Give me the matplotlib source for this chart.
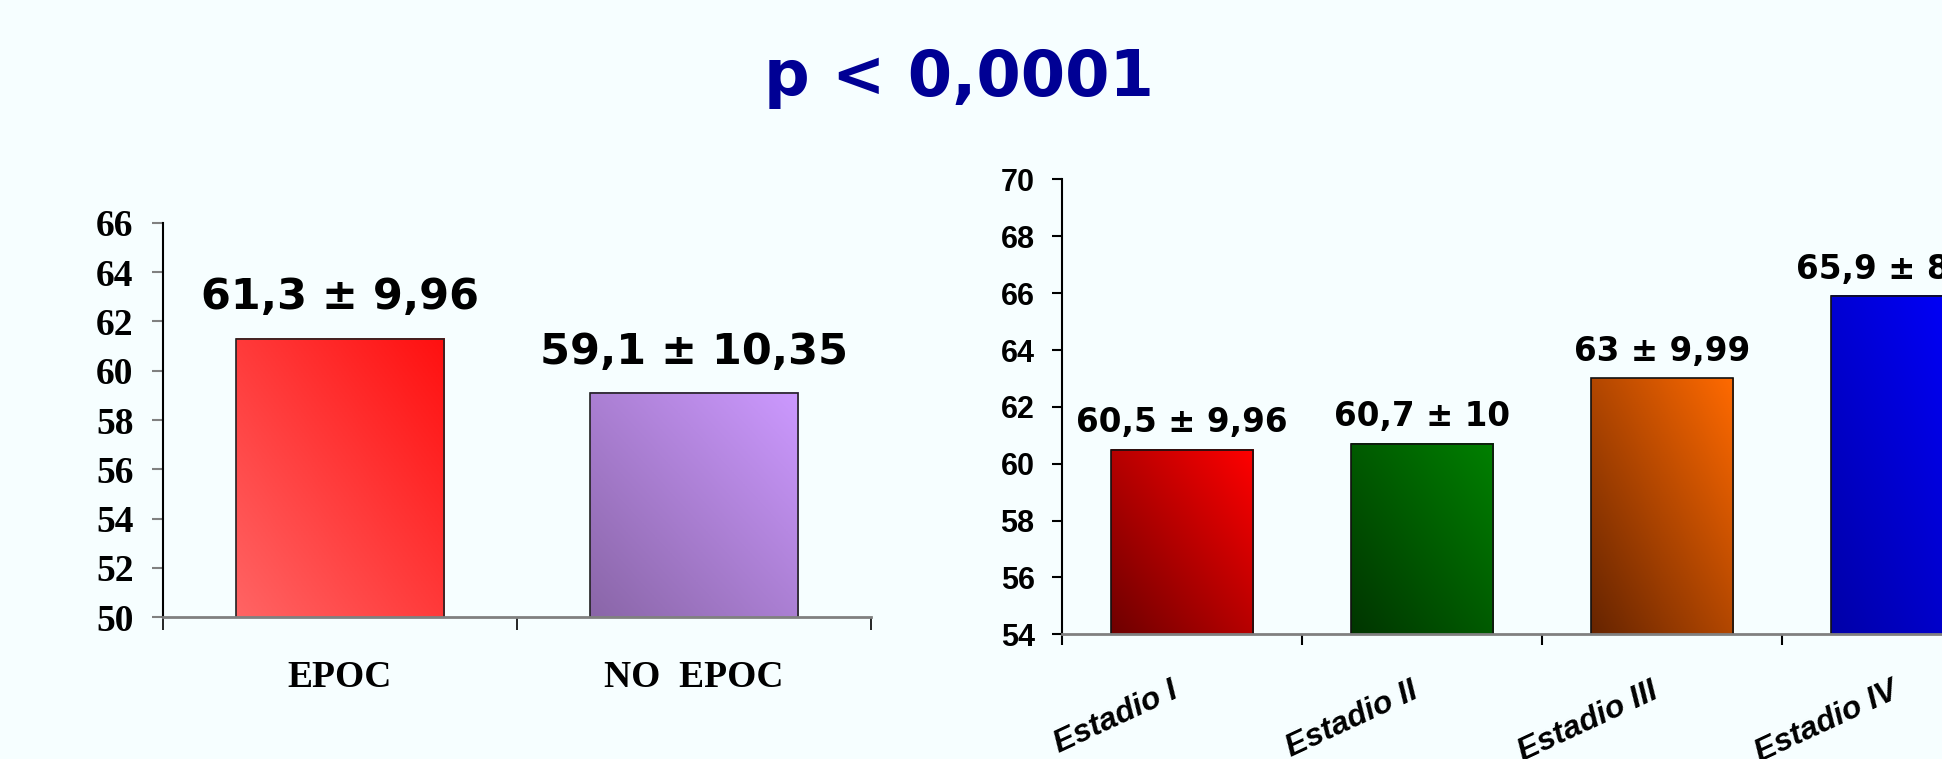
import numpy as np
import matplotlib
matplotlib.use('Agg')
from matplotlib import pyplot as plt
from matplotlib.colors import LinearSegmentedColormap
from matplotlib.transforms import ScaledTranslation

# datos del grafico izquierdo
grupos = ['EPOC', 'NO  EPOC']
edad_grupos = [61.3, 59.1]
etiq_grupos = ['61,3 ± 9,96', '59,1 ± 10,35']
col_grupos = [('#FF6464', '#FF1010'), ('#8A66A8', '#CC99FF')]

# datos del grafico derecho
estadios = ['Estadio I', 'Estadio II', 'Estadio III', 'Estadio IV']
edad_estadios = [60.5, 60.7, 63.0, 65.9]
etiq_estadios = ['60,5 ± 9,96', '60,7 ± 10', '63 ± 9,99', '65,9 ± 8,78']
col_estadios = [('#6E0000', '#FF0000'), ('#003500', '#008000'),
                ('#662400', '#FF6A00'), ('#0000A8', '#0000FF')]

fondo = '#F6FEFF'


def relleno_degradado(ax, barra, c0, c1):
    # degradado diagonal: abajo-izquierda c0 -> arriba-derecha c1 (solo la parte visible)
    x, y = barra.get_xy()
    w, h = barra.get_width(), barra.get_height()
    y0 = max(y, ax.get_ylim()[0])
    y1 = y + h
    u, v = np.meshgrid(np.linspace(0, 1, 64), np.linspace(0, 1, 256))
    cmap = LinearSegmentedColormap.from_list('g', [c0, c1])
    ax.imshow((u + v) / 2, cmap=cmap, extent=(x, x + w, y0, y1), origin='lower',
              aspect='auto', zorder=1.5, interpolation='bilinear')
    barra.set_facecolor('none')
    barra.set_zorder(2)


fig = plt.figure(figsize=(19.42, 7.59), dpi=100, facecolor=fondo)
fig.text(0.4937, 0.8729, 'p < 0,0001', ha='center', va='baseline',
         fontsize=46, fontweight='bold', family='DejaVu Sans', color='#000094')

# ---- izquierda ----
ax1 = fig.add_axes([0.08378, 0.18669, 0.36457, 0.51989])
ax1.set_facecolor('none')
x1 = np.arange(len(grupos))
barras1 = ax1.bar(x1, edad_grupos, 0.588, edgecolor='#222222', linewidth=1.2)
ax1.set_xlim(-0.5, 1.5)
ax1.set_ylim(50, 66)
for b, (c0, c1) in zip(barras1, col_grupos):
    relleno_degradado(ax1, b, c0, c1)
for xi, val, txt in zip(x1, edad_grupos, etiq_grupos):
    ax1.annotate(txt, (xi, val), xytext=(0, 21), textcoords='offset points',
                 ha='center', va='baseline', fontsize=31, fontweight='bold',
                 family='DejaVu Sans', color='black')
ax1.set_yticks(np.arange(50, 67, 2))
ax1.set_xticks(x1)
ax1.set_xticklabels(grupos, family='Liberation Serif', fontweight='bold', fontsize=27)
ax1.set_xticks([-0.5, 0.5, 1.5], minor=True)
ax1.tick_params(axis='x', which='major', length=0, pad=31)
ax1.tick_params(axis='x', which='minor', length=9.4, width=1.2, color='black', direction='out')
ax1.tick_params(axis='y', length=8, width=1.5, color='#808080', pad=13)
for lab in ax1.get_yticklabels():
    lab.set_family('Liberation Serif')
    lab.set_fontweight('bold')
    lab.set_fontsize(27)
ax1.spines['top'].set_visible(False)
ax1.spines['right'].set_visible(False)
ax1.spines['left'].set_color('black')
ax1.spines['left'].set_linewidth(1.5)
ax1.spines['bottom'].set_color('#808080')
ax1.spines['bottom'].set_linewidth(2)

# ---- derecha ----
ax2 = fig.add_axes([0.54686, 0.16430, 0.49434, 0.59921])
ax2.set_facecolor('none')
x2 = np.arange(len(estadios))
barras2 = ax2.bar(x2, edad_estadios, 0.595, edgecolor='#111111', linewidth=1.2)
ax2.set_xlim(-0.5, 3.5)
ax2.set_ylim(54, 70)
for b, (c0, c1) in zip(barras2, col_estadios):
    relleno_degradado(ax2, b, c0, c1)
for xi, val, txt in zip(x2, edad_estadios, etiq_estadios):
    ax2.annotate(txt, (xi, val), xytext=(0, 12.5), textcoords='offset points',
                 ha='center', va='baseline', fontsize=23.5, fontweight='bold',
                 family='DejaVu Sans', color='black')
ax2.set_yticks(np.arange(54, 71, 2))
ax2.set_xticks(x2)
ax2.set_xticklabels(estadios, family='Liberation Sans', fontweight='bold', style='italic',
                    fontsize=23, rotation=25, ha='right', rotation_mode='anchor')
ax2.set_xticks([-0.5, 0.5, 1.5, 2.5, 3.5], minor=True)
ax2.tick_params(axis='x', which='major', length=0, pad=30)
ax2.tick_params(axis='x', which='minor', length=8, width=1.5, color='black', direction='out')
ax2.tick_params(axis='y', length=7, width=1.5, color='black', pad=12.7)
for lab in ax2.get_yticklabels():
    lab.set_family('Liberation Sans')
    lab.set_fontweight('bold')
    lab.set_fontsize(22)
for lab in ax2.get_xticklabels():
    lab.set_transform(lab.get_transform() + ScaledTranslation(-12 / 100, 0, fig.dpi_scale_trans))
ax2.spines['top'].set_visible(False)
ax2.spines['right'].set_visible(False)
ax2.spines['left'].set_color('black')
ax2.spines['left'].set_linewidth(1.5)
ax2.spines['bottom'].set_color('#808080')
ax2.spines['bottom'].set_linewidth(2)

plt.savefig('out.png', dpi=100, facecolor=fondo)
